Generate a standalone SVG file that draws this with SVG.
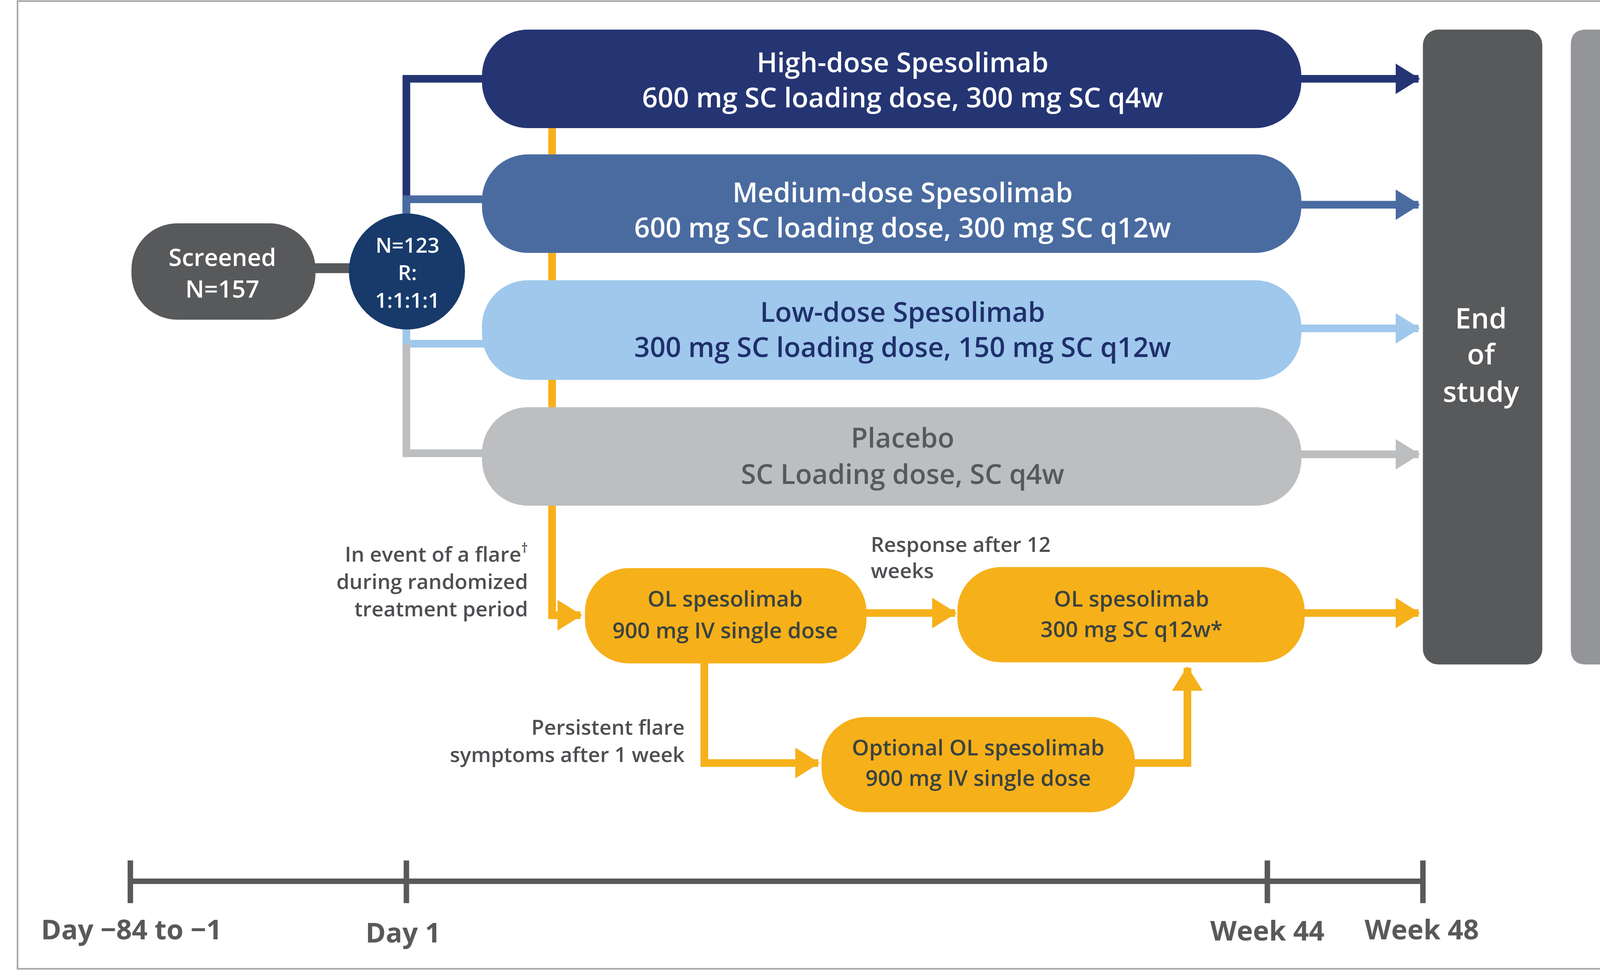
<svg xmlns="http://www.w3.org/2000/svg" width="4397" height="2486" viewBox="0 0 4397 2486">
<style>
text{font-family:"Open Sans","Liberation Sans",sans-serif;font-weight:600;text-anchor:middle}
.w{fill:#fff}
.big{font-size:25px}
.ol{font-size:20px;fill:#3a4340}
.lab{font-size:19px;fill:#4d4f52}
.tl{font-size:25px;fill:#58595b;font-weight:700}
.or{stroke:#f6b01a;stroke-width:7;fill:none}
</style>
<defs>
<marker id="aO" markerWidth="4" markerHeight="4" refX="3" refY="2" orient="auto" markerUnits="strokeWidth"><path d="M0,0 L3.2,2 L0,4z" fill="#f6b01a"/></marker>
<marker id="aH" markerWidth="4" markerHeight="4" refX="3" refY="2" orient="auto" markerUnits="strokeWidth"><path d="M0,0 L3.2,2 L0,4z" fill="#253573"/></marker>
<marker id="aM" markerWidth="4" markerHeight="4" refX="3" refY="2" orient="auto" markerUnits="strokeWidth"><path d="M0,0 L3.2,2 L0,4z" fill="#4a6ba0"/></marker>
<marker id="aL" markerWidth="4" markerHeight="4" refX="3" refY="2" orient="auto" markerUnits="strokeWidth"><path d="M0,0 L3.2,2 L0,4z" fill="#9fc8ec"/></marker>
<marker id="aP" markerWidth="4" markerHeight="4" refX="3" refY="2" orient="auto" markerUnits="strokeWidth"><path d="M0,0 L3.2,2 L0,4z" fill="#bcbec0"/></marker>
</defs>
<rect width="4397" height="2486" fill="#fff"/>
<g transform="scale(2.8042,2.8027)">
<rect x="16" y="1" width="1550" height="884" fill="none" stroke="#a7a9ac" stroke-width="1.5"/>
<g id="connectors">
<line x1="287" y1="245" x2="322" y2="245" stroke="#58595b" stroke-width="9"/>
<path d="M371,196 V72 H442" fill="none" stroke="#253573" stroke-width="7"/>
<path d="M371,196 V182 H442" fill="none" stroke="#4a6ba0" stroke-width="7"/>
<path d="M371,300 V314 H442" fill="none" stroke="#9fc8ec" stroke-width="7"/>
<path d="M371,314 V414 H442" fill="none" stroke="#bcbec0" stroke-width="7"/>
<path d="M504,117 V562 H530" class="or" marker-end="url(#aO)"/>
<line x1="1186" y1="72" x2="1295" y2="72" stroke="#253573" stroke-width="7" marker-end="url(#aH)"/>
<line x1="1186" y1="187" x2="1295" y2="187" stroke="#4a6ba0" stroke-width="7" marker-end="url(#aM)"/>
<line x1="1186" y1="300" x2="1295" y2="300" stroke="#9fc8ec" stroke-width="7" marker-end="url(#aL)"/>
<line x1="1186" y1="415" x2="1295" y2="415" stroke="#bcbec0" stroke-width="7" marker-end="url(#aP)"/>
<line x1="789" y1="560" x2="872" y2="560" class="or" marker-end="url(#aO)"/>
<line x1="1189" y1="560" x2="1295" y2="560" class="or" marker-end="url(#aO)"/>
<path d="M643,605 V697 H747" class="or" marker-end="url(#aO)"/>
<path d="M1034,697 H1084 V610" class="or" marker-end="url(#aO)"/>
</g>
<g id="screened"><rect x="120" y="204" width="168" height="88" rx="42" fill="#58595b"/>
<text class="w" x="203" y="243" font-size="22">Screened</text><text class="w" x="203" y="272" font-size="22">N=157</text></g>
<g id="rand"><circle cx="371.5" cy="248" r="53" fill="#173a6b"/>
<text class="w" x="372" y="231" font-size="19">N=123</text><text class="w" x="372" y="256" font-size="19">R:</text><text class="w" x="372" y="281" font-size="19">1:1:1:1</text></g>
<g id="high"><rect x="440" y="27" width="748" height="90" rx="42" fill="#253573"/>
<text class="w big" x="824" y="66">High-dose Spesolimab</text><text class="w big" x="824" y="98">600 mg SC loading dose, 300 mg SC q4w</text></g>
<g id="medium"><rect x="440" y="141" width="748" height="90" rx="42" fill="#4a6ba0"/>
<text class="w big" x="824" y="185">Medium-dose Spesolimab</text><text class="w big" x="824" y="217">600 mg SC loading dose, 300 mg SC q12w</text></g>
<g id="low"><rect x="440" y="256" width="748" height="91" rx="42" fill="#9fc8ec"/>
<text class="big" fill="#1f2f6b" x="824" y="294">Low-dose Spesolimab</text><text class="big" fill="#1f2f6b" x="824" y="326">300 mg SC loading dose, 150 mg SC q12w</text></g>
<g id="placebo"><rect x="440" y="372" width="748" height="90" rx="42" fill="#bcbec0"/>
<text class="big" fill="#58595b" x="824" y="409">Placebo</text><text class="big" fill="#58595b" x="824" y="442">SC Loading dose, SC q4w</text></g>
<g id="end"><rect x="1299" y="27" width="109" height="580" rx="14" fill="#58595b"/>
<text class="w" x="1352" y="300" font-size="26">End</text><text class="w" x="1352" y="333" font-size="26">of</text><text class="w" x="1352" y="367" font-size="26">study</text></g>
<g id="ole"><path d="M1448,27 H1510 L1545,320 L1510,607 H1448 Q1434,607 1434,593 V41 Q1434,27 1448,27z" fill="#939598"/>
<text class="w" x="1486" y="333" font-size="24">OLE</text></g>
<g id="ol1"><rect x="534" y="519" width="257" height="87" rx="40" fill="#f6b01a"/>
<text class="ol" x="662" y="554">OL spesolimab</text><text class="ol" x="662" y="583">900 mg IV single dose</text></g>
<g id="ol2"><rect x="874" y="518" width="317" height="87" rx="40" fill="#f6b01a"/>
<text class="ol" x="1033" y="554">OL spesolimab</text><text class="ol" x="1033" y="582">300 mg SC q12w*</text></g>
<g id="optional"><rect x="750" y="655" width="286" height="87" rx="40" fill="#f6b01a"/>
<text class="ol" x="893" y="690">Optional OL spesolimab</text><text class="ol" x="893" y="718">900 mg IV single dose</text></g>
<g id="labels">
<text class="lab" x="482" y="513" text-anchor="end" style="text-anchor:end">In event of a flare<tspan font-size="12" dy="-8">†</tspan></text>
<text class="lab" x="482" y="538" style="text-anchor:end">during randomized</text>
<text class="lab" x="482" y="563" style="text-anchor:end">treatment period</text>
<text class="lab" x="795" y="504" style="text-anchor:start">Response after 12</text>
<text class="lab" x="795" y="528" style="text-anchor:start">weeks</text>
<text class="lab" x="625" y="671" style="text-anchor:end">Persistent flare</text>
<text class="lab" x="625" y="696" style="text-anchor:end">symptoms after 1 week</text>
</g>
<g id="timeline" stroke="#58595b" stroke-width="5">
<line x1="119" y1="805" x2="1299" y2="805"/>
<line x1="119" y1="786" x2="119" y2="825"/><line x1="371" y1="786" x2="371" y2="825"/>
<line x1="1157" y1="786" x2="1157" y2="825"/><line x1="1299" y1="786" x2="1299" y2="825"/>
</g>
<text class="tl" x="120" y="858">Day −84 to −1</text>
<text class="tl" x="368" y="861">Day 1</text>
<text class="tl" x="1157" y="859">Week 44</text>
<text class="tl" x="1298" y="858">Week 48</text>
</g>
</svg>
